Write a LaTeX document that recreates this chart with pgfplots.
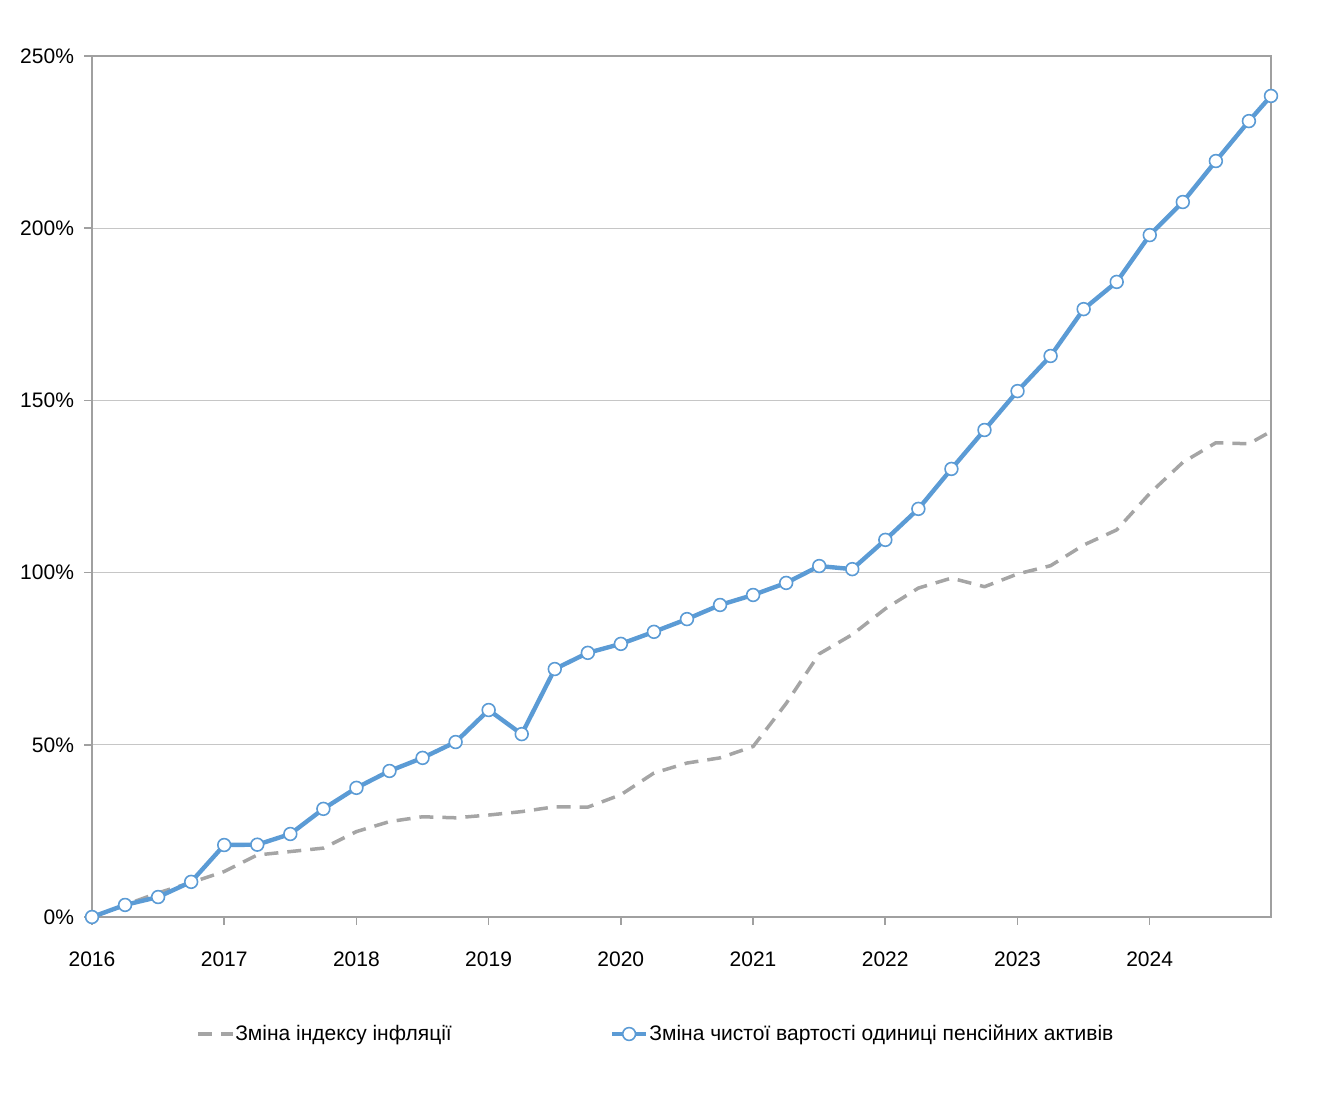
\documentclass[border=0pt]{standalone}
\usepackage{pgfplots}
\pgfplotsset{compat=1.18}
\usepackage{fontspec}
\setmainfont{Liberation Sans}

\definecolor{navblue}{HTML}{5B9BD5}
\definecolor{inflgray}{HTML}{A5A5A5}
\definecolor{axisgray}{HTML}{A0A0A0}
\definecolor{gridgray}{HTML}{C6C6C6}

% quarterly values, per cent change since start of 2016
\pgfplotstableread{
x        y
2016.00  0
2016.25  3.5
2016.50  7.0
2016.75  10.0
2017.00  13.2
2017.25  18.0
2017.50  19.0
2017.75  20.0
2018.00  24.8
2018.25  27.7
2018.50  29.1
2018.75  28.8
2019.00  29.6
2019.25  30.6
2019.50  32.0
2019.75  31.9
2020.00  35.5
2020.25  41.8
2020.50  44.7
2020.75  46.2
2021.00  49.5
2021.25  62.0
2021.50  76.4
2021.75  82.0
2022.00  89.5
2022.25  95.5
2022.50  98.4
2022.75  95.9
2023.00  99.6
2023.25  102.0
2023.50  108.0
2023.75  112.4
2024.00  123.0
2024.25  132.0
2024.50  137.7
2024.75  137.4
2024.917 141.0
}\inflation

\pgfplotstableread{
x        y
2016.00  0
2016.25  3.5
2016.50  5.8
2016.75  10.2
2017.00  20.9
2017.25  21.0
2017.50  24.1
2017.75  31.4
2018.00  37.5
2018.25  42.4
2018.50  46.2
2018.75  50.8
2019.00  60.1
2019.25  53.1
2019.50  72.0
2019.75  76.7
2020.00  79.3
2020.25  82.8
2020.50  86.5
2020.75  90.6
2021.00  93.5
2021.25  97.0
2021.50  101.9
2021.75  101.0
2022.00  109.5
2022.25  118.5
2022.50  130.1
2022.75  141.4
2023.00  152.7
2023.25  162.9
2023.50  176.5
2023.75  184.4
2024.00  198.0
2024.25  207.6
2024.50  219.5
2024.75  231.1
2024.917 238.4
}\pension

\begin{document}
\begin{tikzpicture}[font=\fontsize{10.5}{12.6}\selectfont]
\begin{axis}[
    scale only axis,
    width=589.5pt, height=430.5pt,
    xmin=2016, xmax=2024.917,
    ymin=0, ymax=250,
    xtick={2016,2017,...,2024},
    ytick={0,50,...,250},
    yticklabel={\pgfmathprintnumber{\tick}\%},
    /pgf/number format/assume math mode=true,
    x tick label style={/pgf/number format/1000 sep={}, yshift=-10pt},
    y tick label style={xshift=-1.5pt},
    tick label style={font=\fontsize{10.5}{12.6}\selectfont, text=black},
    axis line style={axisgray, line width=0.8pt},
    tick style={axisgray, line width=0.8pt},
    tick align=outside,
    major tick length=4pt,
    xtick pos=bottom, ytick pos=left,
    ymajorgrids,
    grid style={gridgray, line width=0.6pt},
    clip=false,
    legend columns=2,
    legend cell align=left,
    legend style={
        draw=none, fill=none,
        at={(0.5,0)}, anchor=center,
        xshift=-13pt, yshift=-58.5pt,
        font=\fontsize{10.5}{12.6}\selectfont,
        /tikz/every even column/.append style={column sep=78.5pt},
        nodes={inner xsep=0.5pt},
    },
]
\addplot[inflgray, line width=1.75pt, dash pattern=on 7pt off 4.5pt, line join=round]
    table[x=x, y=y] {\inflation};
\addlegendentry{Зміна індексу інфляції}
\addplot[navblue, line width=2.2pt, line join=round,
         mark=*, mark size=3.2pt,
         mark options={fill=white, draw=navblue, line width=0.8pt, solid}]
    table[x=x, y=y] {\pension};
\addlegendentry{Зміна чистої вартості одиниці пенсійних активів}
\end{axis}
\path (current axis.south west) ++(-46pt,-90pt);
\path (current axis.north east) ++(26.5pt,28pt);
\end{tikzpicture}
\end{document}
